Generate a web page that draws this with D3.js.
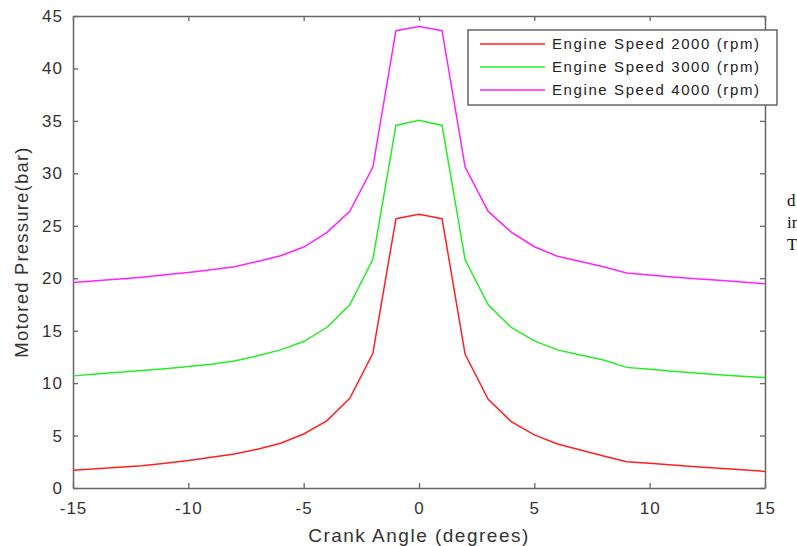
<!DOCTYPE html>
<html>
<head>
<meta charset="utf-8">
<script src="https://cdn.jsdelivr.net/npm/d3@7"></script>
<style>
  body { margin: 0; background: #fff; }
  svg text { font-family: "Liberation Sans", Arial, sans-serif; }
</style>
</head>
<body>
<div id="chart"></div>
<script>
// crank angle (deg)
const angles = d3.range(-15, 16);

// motored pressure (bar)
const p2000 = [1.7, 1.84, 1.97, 2.13, 2.35, 2.62, 2.93, 3.24, 3.7, 4.26, 5.15, 6.4, 8.55, 12.85, 25.67,
               26.1,
               25.67, 12.75, 8.46, 6.33, 5.06, 4.2, 3.63, 3.05, 2.51, 2.35, 2.2, 2.03, 1.88, 1.73, 1.58];
const p3000 = [10.69, 10.88, 11.04, 11.2, 11.38, 11.58, 11.8, 12.1, 12.6, 13.17, 13.96, 15.3, 17.46, 21.8, 34.57,
               35.05,
               34.57, 21.76, 17.46, 15.3, 14.03, 13.17, 12.69, 12.2, 11.5, 11.32, 11.14, 10.96, 10.8, 10.66, 10.53];
const p4000 = [19.6, 19.75, 19.92, 20.1, 20.32, 20.55, 20.8, 21.1, 21.6, 22.14, 22.97, 24.35, 26.37, 30.6, 43.6,
               44.0,
               43.6, 30.6, 26.37, 24.4, 23.0, 22.1, 21.6, 21.1, 20.5, 20.3, 20.12, 19.95, 19.8, 19.63, 19.47];

const seriesNames = ["Engine Speed 2000 (rpm)", "Engine Speed 3000 (rpm)", "Engine Speed 4000 (rpm)"];
const seriesColors = ["#ff2020", "#22ee22", "#ff22ff"];
const seriesValues = [p2000, p3000, p4000];

const xTicks = [-15, -10, -5, 0, 5, 10, 15];
const yTicks = [0, 5, 10, 15, 20, 25, 30, 35, 40, 45];

const width = 797, height = 546;
const margin = {left: 73, right: 32, top: 16, bottom: 58};

const svg = d3.select("#chart")
    .append("svg")
    .attr("width", width)
    .attr("height", height);

const x = d3.scaleLinear().domain([-15, 15]).range([margin.left, width - margin.right]);
const y = d3.scaleLinear().domain([0, 45]).range([height - margin.bottom, margin.top]);

const axisColor = "#666";
const textColor = "#333";

// ticks on all four sides, pointing inward
const axBottom = svg.append("g")
    .attr("transform", `translate(0, ${y(0)})`)
    .call(d3.axisBottom(x).tickValues(xTicks).tickSizeInner(-5).tickSizeOuter(0).tickPadding(14));
const axTop = svg.append("g")
    .attr("transform", `translate(0, ${y(45)})`)
    .call(d3.axisTop(x).tickValues(xTicks).tickSizeInner(-5).tickSizeOuter(0).tickFormat(""));
const axLeft = svg.append("g")
    .attr("transform", `translate(${x(-15)}, 0)`)
    .call(d3.axisLeft(y).tickValues(yTicks).tickSizeInner(-5).tickSizeOuter(0).tickPadding(10));
const axRight = svg.append("g")
    .attr("transform", `translate(${x(15)}, 0)`)
    .call(d3.axisRight(y).tickValues(yTicks).tickSizeInner(-5).tickSizeOuter(0).tickFormat(""));

[axBottom, axTop, axLeft, axRight].forEach(g => {
    g.select(".domain").attr("stroke", axisColor).attr("stroke-width", 1.5);
    g.selectAll(".tick line").attr("stroke", axisColor).attr("stroke-width", 1.3);
    g.selectAll(".tick text")
        .attr("fill", textColor)
        .style("font-size", "17px")
        .style("letter-spacing", "1px");
});
axBottom.selectAll(".tick text").text(d => d < 0 ? "-" + Math.abs(d) : d);

// lines
const line = d3.line()
    .x((d, i) => x(angles[i]))
    .y(d => y(d));

svg.append("g")
    .selectAll("path")
    .data(seriesValues)
    .enter()
    .append("path")
        .attr("d", d => line(d))
        .attr("fill", "none")
        .attr("stroke", (d, i) => seriesColors[i])
        .attr("stroke-width", 1.5);

// axis titles
svg.append("text")
    .attr("x", x(0))
    .attr("y", 542)
    .attr("text-anchor", "middle")
    .attr("fill", textColor)
    .style("font-size", "19px")
    .style("letter-spacing", "1.5px")
    .text("Crank Angle (degrees)");

svg.append("text")
    .attr("transform", `translate(28, ${y(22.5)}) rotate(-90)`)
    .attr("text-anchor", "middle")
    .attr("fill", textColor)
    .style("font-size", "18.5px")
    .style("letter-spacing", "1.2px")
    .text("Motored Pressure(bar)");

// legend
const legend = svg.append("g").attr("transform", "translate(468, 30)");
legend.append("rect")
    .attr("width", 309)
    .attr("height", 75)
    .attr("fill", "#fff")
    .attr("stroke", axisColor)
    .attr("stroke-width", 1.5);

const rows = legend.selectAll(".row")
    .data(seriesNames)
    .enter()
    .append("g")
    .attr("class", "row")
    .attr("transform", (d, i) => `translate(0, ${14 + i * 23})`);
rows.append("line")
    .attr("x1", 12).attr("x2", 77)
    .attr("stroke", (d, i) => seriesColors[i])
    .attr("stroke-width", 1.5);
rows.append("text")
    .attr("x", 84)
    .attr("dy", "0.35em")
    .attr("fill", "#222")
    .style("font-size", "15px")
    .style("letter-spacing", "1.6px")
    .text(d => d);

// bits of page text cut off at the right edge
const stray = ["d", "in", "T"];
svg.append("g")
    .selectAll("text")
    .data(stray)
    .enter()
    .append("text")
        .attr("x", 787)
        .attr("y", (d, i) => 206 + i * 22)
        .style("font-family", "'Liberation Serif', serif")
        .style("font-size", "17px")
        .attr("fill", "#111")
        .text(d => d);
</script>
</body>
</html>
